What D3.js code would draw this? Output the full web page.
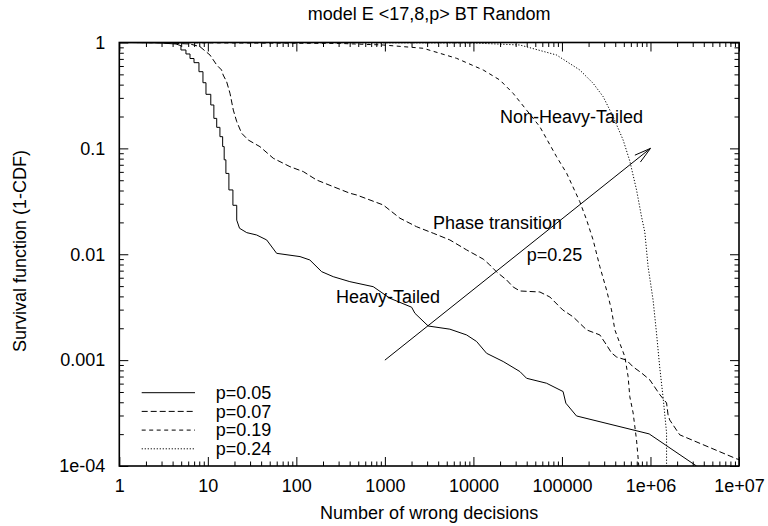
<!DOCTYPE html>
<html><head><meta charset="utf-8">
<script src="https://cdn.jsdelivr.net/npm/d3@7"></script>
<style>body{margin:0;background:#fff}svg{display:block;font-family:"Liberation Sans",Arial,Helvetica,sans-serif}</style>
</head><body><svg id="c" width="768" height="526"></svg>
<script>
// ---------- data ----------
const title = "model E <17,8,p> BT Random";
const xLabel = "Number of wrong decisions";
const yLabel = "Survival function (1-CDF)";
const xTicks = [1,10,100,1000,10000,100000,1e6,1e7];
const xTickLabels = ["1","10","100","1000","10000","100000","1e+06","1e+07"];
const yTicks = [1e-4,1e-3,0.01,0.1,1];
const yTickLabels = ["1e-04","0.001","0.01","0.1","1"];
const seriesNames = ["p=0.05","p=0.07","p=0.19","p=0.24"];

const p05 = [[1,1],[2.88,0.99],[4.37,0.968],[4.97,0.933],[4.97,0.85],[5.66,0.85],[5.66,0.779],[6.29,0.779],[6.29,0.706],[6.98,0.706],[6.98,0.645],[7.94,0.645],[7.94,0.53],[8.81,0.53],[8.81,0.417],[9.53,0.417],[9.53,0.324],[10.8,0.324],[10.8,0.257],[11.7,0.257],[11.7,0.192],[12.6,0.192],[12.6,0.158],[13.7,0.158],[13.7,0.129],[14.7,0.129],[14.7,0.104],[15.3,0.104],[15.3,0.078],[16.0,0.078],[16.0,0.058],[17.3,0.058],[17.3,0.0405],[19.2,0.0405],[19.2,0.029],[21.2,0.029],[21.2,0.021],[22.8,0.0176],[27.5,0.016],[35.6,0.0152],[46.2,0.01365],[59.9,0.0102],[110,0.0095],[142,0.00883],[193,0.00685],[261,0.00614],[402,0.00551],[738,0.00494],[1140,0.00384],[2005,0.00316],[2183,0.00277],[3085,0.0021],[5420,0.00196],[8370,0.00173],[10860,0.0015],[14090,0.00116],[21700,0.00097],[33500,0.00078],[39850,0.000674],[67000,0.000605],[103000,0.000505],[110700,0.000392],[146000,0.000297],[966000,0.000201],[3310000,0.0001],[5000000,0.00007]];

const p07 = [[1,1],[3,0.995],[6.29,0.968],[8.15,0.913],[10.57,0.762],[12.6,0.613],[14.3,0.55],[14.9,0.493],[16.3,0.427],[17.8,0.331],[19.4,0.23],[21.2,0.179],[24.1,0.139],[28.6,0.12],[38.8,0.1038],[54.8,0.0807],[84.6,0.0672],[120,0.0603],[169,0.0503],[261,0.0435],[402,0.0377],[479,0.0363],[958,0.0292],[1479,0.0219],[2281,0.0182],[3514,0.0158],[5420,0.01365],[8370,0.011],[12900,0.009],[15300,0.00793],[18270,0.00681],[23700,0.00572],[28100,0.00491],[33500,0.0045],[56300,0.0044],[73000,0.00395],[102000,0.00298],[134000,0.00256],[190000,0.00193],[268000,0.00173],[319000,0.00139],[363000,0.00117],[414000,0.00107],[536000,0.001],[637000,0.000863],[792000,0.000757],[984000,0.00065],[1280000,0.00047],[1520000,0.000394],[1580000,0.000304],[1650000,0.000272],[2140000,0.000197],[9360000,0.000117],[1e7,0.000115]];

const p19 = [[1,1],[310,0.98],[958,0.947],[2710,0.882],[6450,0.709],[12900,0.55],[19900,0.442],[28100,0.331],[39850,0.23],[56300,0.16],[86900,0.0835],[113000,0.0582],[159000,0.0314],[190000,0.0211],[225000,0.01365],[268000,0.00764],[319000,0.0046],[363000,0.00298],[396000,0.00193],[451000,0.00144],[513000,0.00108],[559000,0.000699],[584000,0.000452],[637000,0.000317],[696000,0.000176],[738000,0.0001],[750000,0.00009]];

const p24 = [[1,1],[9860,0.99],[33500,0.947],[86900,0.762],[159000,0.55],[225000,0.412],[292000,0.308],[378000,0.2],[491000,0.12],[584000,0.076],[696000,0.0405],[792000,0.0227],[863000,0.0162],[940000,0.00764],[1070000,0.0037],[1170000,0.0018],[1270000,0.000868],[1390000,0.00044],[1520000,0.000206],[1520000,0.0001],[1530000,0.00009]];

const annoText = ["Non-Heavy-Tailed","Phase transition","p=0.25","Heavy-Tailed"];
const annoX = [20000,3500,40000,280];
const annoY = [0.2,0.02,0.01,0.004];
const arrowFrom = [1000,0.001];
const arrowTo = [1e6,0.1];

// ---------- drawing ----------
const series = [p05,p07,p19,p24];
const dashes = [null,"6,3","4,3.5","1.2,1.8"];
const svg = d3.select("#c");
const FS = 18;
const m = {left:119.3,right:739,top:42.5,bottom:466};
const x = d3.scaleLog().domain([1,1e7]).range([m.left,m.right]);
const y = d3.scaleLog().domain([1e-4,1]).range([m.bottom,m.top]);

const minorX = [], minorY = [];
xTicks.slice(0,-1).forEach(d=>{for(let k=2;k<10;k++) minorX.push(d*k);});
yTicks.slice(0,-1).forEach(d=>{for(let k=2;k<10;k++) minorY.push(d*k);});

function styleAxis(g){
  g.select(".domain").remove();
  g.attr("font-size",FS).attr("font-family",'"Liberation Sans",Arial,sans-serif');
  g.selectAll("line").attr("stroke","#000").attr("stroke-width",1);
  g.selectAll("text").attr("fill","#000");
}
// bottom
svg.append("g").attr("transform",`translate(0,${m.bottom})`)
  .call(d3.axisBottom(x).tickValues(xTicks).tickFormat((d,i)=>xTickLabels[i]).tickSize(-9).tickPadding(13.2)).call(styleAxis);
svg.append("g").attr("transform",`translate(0,${m.bottom})`)
  .call(d3.axisBottom(x).tickValues(minorX).tickFormat("").tickSize(-4.5)).call(styleAxis);
// top
svg.append("g").attr("transform",`translate(0,${m.top})`)
  .call(d3.axisTop(x).tickValues(xTicks).tickFormat("").tickSize(-9)).call(styleAxis);
svg.append("g").attr("transform",`translate(0,${m.top})`)
  .call(d3.axisTop(x).tickValues(minorX).tickFormat("").tickSize(-4.5)).call(styleAxis);
// left
svg.append("g").attr("transform",`translate(${m.left},0)`)
  .call(d3.axisLeft(y).tickValues(yTicks).tickFormat((d,i)=>yTickLabels[i]).tickSize(-9).tickPadding(14)).call(styleAxis);
svg.append("g").attr("transform",`translate(${m.left},0)`)
  .call(d3.axisLeft(y).tickValues(minorY).tickFormat("").tickSize(-4.5)).call(styleAxis);
// right
svg.append("g").attr("transform",`translate(${m.right},0)`)
  .call(d3.axisRight(y).tickValues(yTicks).tickFormat("").tickSize(-9)).call(styleAxis);
svg.append("g").attr("transform",`translate(${m.right},0)`)
  .call(d3.axisRight(y).tickValues(minorY).tickFormat("").tickSize(-4.5)).call(styleAxis);

// clip
svg.append("clipPath").attr("id","clip").append("rect")
  .attr("x",m.left).attr("y",m.top).attr("width",m.right-m.left).attr("height",m.bottom-m.top);

const line = d3.line().x(d=>x(d[0])).y(d=>y(d[1]));
const plot = svg.append("g").attr("clip-path","url(#clip)");
series.forEach((s,i)=>{
  plot.append("path").attr("d",line(s)).attr("fill","none").attr("stroke","#000")
    .attr("stroke-width",1).attr("stroke-dasharray",dashes[i]);
});

// frame
svg.append("rect").attr("x",m.left).attr("y",m.top).attr("width",m.right-m.left).attr("height",m.bottom-m.top)
  .attr("fill","none").attr("stroke","#000").attr("stroke-width",1.6);

// arrow
const ax0=x(arrowFrom[0]), ay0=y(arrowFrom[1]), ax1=x(arrowTo[0]), ay1=y(arrowTo[1]);
svg.append("line").attr("x1",ax0).attr("y1",ay0).attr("x2",ax1).attr("y2",ay1).attr("stroke","#000").attr("stroke-width",1);
const ang = Math.atan2(ay1-ay0, ax1-ax0), hl = 17, ha = 15*Math.PI/180;
svg.append("path").attr("fill","none").attr("stroke","#000").attr("stroke-width",1)
  .attr("d",`M${ax1-hl*Math.cos(ang-ha)},${ay1-hl*Math.sin(ang-ha)}L${ax1},${ay1}L${ax1-hl*Math.cos(ang+ha)},${ay1-hl*Math.sin(ang+ha)}`);

// annotations
annoText.forEach((t,i)=>{
  svg.append("text").attr("x",x(annoX[i])).attr("y",y(annoY[i])).attr("dy","0.35em")
    .attr("font-size",FS).attr("fill","#000").text(t);
});

// legend
seriesNames.forEach((n,i)=>{
  const ly = 392.7 + i*18.7;
  svg.append("line").attr("x1",141.7).attr("x2",195).attr("y1",ly).attr("y2",ly)
    .attr("stroke","#000").attr("stroke-width",1).attr("stroke-dasharray",dashes[i]);
  svg.append("text").attr("x",215.7).attr("y",ly).attr("dy","0.35em").attr("font-size",FS).text(n);
});

// titles
svg.append("text").attr("x",(m.left+m.right)/2).attr("y",19.5).attr("text-anchor","middle").attr("font-size",FS).text(title);
svg.append("text").attr("x",(m.left+m.right)/2).attr("y",519).attr("text-anchor","middle").attr("font-size",FS).text(xLabel);
svg.append("text").attr("transform","translate(26,251) rotate(-90)").attr("text-anchor","middle").attr("font-size",FS).text(yLabel);
</script></body></html>
